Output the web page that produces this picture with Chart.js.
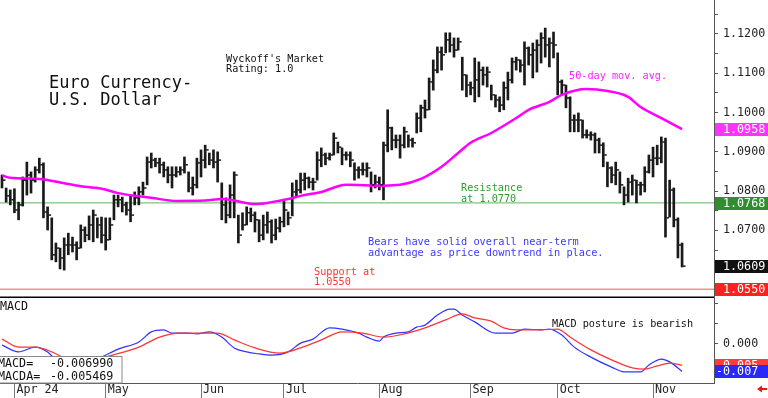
<!DOCTYPE html>
<html>
<head>
<meta charset="utf-8">
<script src="https://cdn.jsdelivr.net/npm/chart.js@4/dist/chart.umd.min.js"></script>
<style>
  body { margin: 0; background: #fff; }
  #wrap { position: relative; width: 768px; height: 398px; overflow: hidden; }
  #priceBox { position: absolute; left: 0; top: 0; width: 768px; height: 298px; }
  #macdBox { position: absolute; left: 0; top: 298px; width: 768px; height: 100px; }
</style>
</head>
<body>
<div id="wrap">
  <div id="priceBox"><canvas id="priceChart" width="768" height="298"></canvas></div>
  <div id="macdBox"><canvas id="macdChart" width="768" height="100"></canvas></div>
</div>
<script>
// daily bars, Mar 27 2024 .. Nov 12 2024 (trading days, index 0..164)
const highs = [
  1.0841, 1.0808, 1.0803, 1.0806, 1.0772, 1.0836, 1.0874, 1.0849, 1.0862, 1.0884,
  1.0872, 1.0760, 1.0732, 1.0668, 1.0655, 1.0681, 1.0693, 1.0683, 1.0671, 1.0714,
  1.0709, 1.0737, 1.0752, 1.0732, 1.0734, 1.0732, 1.0732, 1.0790, 1.0790, 1.0785,
  1.0772, 1.0790, 1.0798, 1.0811, 1.0823, 1.0887, 1.0897, 1.0884, 1.0884, 1.0874,
  1.0862, 1.0862, 1.0862, 1.0862, 1.0887, 1.0849, 1.0836, 1.0884, 1.0905, 1.0917,
  1.0897, 1.0905, 1.0900, 1.0821, 1.0783, 1.0816, 1.0849, 1.0739, 1.0745, 1.0760,
  1.0757, 1.0747, 1.0727, 1.0739, 1.0747, 1.0727, 1.0729, 1.0734, 1.0778, 1.0747,
  1.0821, 1.0828, 1.0846, 1.0846, 1.0836, 1.0833, 1.0900, 1.0910, 1.0897, 1.0897,
  1.0948, 1.0925, 1.0910, 1.0900, 1.0900, 1.0872, 1.0862, 1.0872, 1.0872, 1.0849,
  1.0841, 1.0836, 1.0925, 1.1007, 1.0963, 1.0943, 1.0943, 1.0963, 1.0943, 1.0935,
  1.0999, 1.1019, 1.1032, 1.1088, 1.1134, 1.1167, 1.1167, 1.1203, 1.1203, 1.1190,
  1.1190, 1.1141, 1.1096, 1.1078, 1.1139, 1.1129, 1.1116, 1.1116, 1.1070, 1.1045,
  1.1040, 1.1078, 1.1103, 1.1139, 1.1141, 1.1134, 1.1180, 1.1167, 1.1177, 1.1185,
  1.1203, 1.1215, 1.1190, 1.1205, 1.1152, 1.1083, 1.1070, 1.1040, 1.0994, 1.0999,
  1.0981, 1.0956, 1.0951, 1.0948, 1.0935, 1.0923, 1.0874, 1.0862, 1.0874, 1.0849,
  1.0811, 1.0833, 1.0841, 1.0828, 1.0823, 1.0862, 1.0892, 1.0912, 1.0917, 1.0938,
  1.0935, 1.0828, 1.0808, 1.0732, 1.0668
];
const lows = [
  1.0808, 1.0772, 1.0765, 1.0745, 1.0727, 1.0762, 1.0790, 1.0795, 1.0823, 1.0846,
  1.0732, 1.0701, 1.0625, 1.0620, 1.0602, 1.0599, 1.0638, 1.0645, 1.0625, 1.0655,
  1.0671, 1.0676, 1.0671, 1.0681, 1.0668, 1.0650, 1.0676, 1.0727, 1.0760, 1.0747,
  1.0739, 1.0722, 1.0765, 1.0765, 1.0790, 1.0816, 1.0859, 1.0862, 1.0846, 1.0836,
  1.0821, 1.0808, 1.0836, 1.0841, 1.0846, 1.0798, 1.0790, 1.0808, 1.0836, 1.0859,
  1.0867, 1.0859, 1.0823, 1.0727, 1.0719, 1.0732, 1.0732, 1.0668, 1.0701, 1.0714,
  1.0722, 1.0696, 1.0671, 1.0676, 1.0693, 1.0668, 1.0676, 1.0696, 1.0709, 1.0714,
  1.0737, 1.0785, 1.0795, 1.0803, 1.0808, 1.0803, 1.0828, 1.0862, 1.0867, 1.0879,
  1.0892, 1.0897, 1.0867, 1.0879, 1.0862, 1.0828, 1.0833, 1.0841, 1.0836, 1.0798,
  1.0808, 1.0803, 1.0778, 1.0900, 1.0905, 1.0910, 1.0884, 1.0910, 1.0912, 1.0912,
  1.0948, 1.0951, 1.0986, 1.1007, 1.1057, 1.1101, 1.1108, 1.1152, 1.1154, 1.1141,
  1.1159, 1.1057, 1.1040, 1.1045, 1.1027, 1.1040, 1.1070, 1.1065, 1.1032, 1.1014,
  1.1002, 1.1007, 1.1032, 1.1075, 1.1108, 1.1103, 1.1070, 1.1121, 1.1088, 1.1103,
  1.1126, 1.1141, 1.1116, 1.1139, 1.1045, 1.1045, 1.1012, 1.0951, 1.0951, 1.0951,
  1.0935, 1.0935, 1.0930, 1.0897, 1.0897, 1.0862, 1.0811, 1.0821, 1.0816, 1.0795,
  1.0765, 1.0772, 1.0790, 1.0770, 1.0790, 1.0798, 1.0846, 1.0836, 1.0867, 1.0872,
  1.0683, 1.0734, 1.0709, 1.0630, 1.0607
];
const closes = [
  1.0828, 1.0788, 1.0778, 1.0752, 1.0765, 1.0828, 1.0841, 1.0828, 1.0854, 1.0867,
  1.0747, 1.0739, 1.0638, 1.0655, 1.0630, 1.0663, 1.0663, 1.0663, 1.0655, 1.0701,
  1.0688, 1.0714, 1.0739, 1.0714, 1.0688, 1.0676, 1.0714, 1.0778, 1.0778, 1.0765,
  1.0752, 1.0739, 1.0783, 1.0798, 1.0808, 1.0874, 1.0879, 1.0872, 1.0867, 1.0854,
  1.0841, 1.0841, 1.0849, 1.0854, 1.0867, 1.0808, 1.0816, 1.0872, 1.0879, 1.0905,
  1.0879, 1.0874, 1.0879, 1.0765, 1.0739, 1.0790, 1.0841, 1.0688, 1.0714, 1.0745,
  1.0739, 1.0727, 1.0688, 1.0714, 1.0722, 1.0688, 1.0706, 1.0722, 1.0752, 1.0732,
  1.0798, 1.0803, 1.0828, 1.0833, 1.0823, 1.0823, 1.0879, 1.0892, 1.0884, 1.0892,
  1.0935, 1.0912, 1.0892, 1.0892, 1.0879, 1.0854, 1.0854, 1.0854, 1.0859, 1.0816,
  1.0823, 1.0816, 1.0917, 1.0961, 1.0930, 1.0930, 1.0917, 1.0951, 1.0930, 1.0923,
  1.0986, 1.1012, 1.1007, 1.1078, 1.1108, 1.1154, 1.1147, 1.1185, 1.1172, 1.1159,
  1.1180, 1.1096, 1.1070, 1.1063, 1.1083, 1.1108, 1.1096, 1.1103, 1.1045, 1.1032,
  1.1019, 1.1063, 1.1083, 1.1129, 1.1134, 1.1121, 1.1164, 1.1147, 1.1159, 1.1172,
  1.1190, 1.1172, 1.1177, 1.1172, 1.1078, 1.1070, 1.1037, 1.0981, 1.0981, 1.0981,
  1.0943, 1.0943, 1.0943, 1.0930, 1.0917, 1.0892, 1.0859, 1.0841, 1.0854, 1.0816,
  1.0790, 1.0823, 1.0828, 1.0816, 1.0816, 1.0849, 1.0879, 1.0884, 1.0884, 1.0925,
  1.0732, 1.0803, 1.0727, 1.0663, 1.0609
];

// 50-day moving average, read at these bar indexes
const maIdx = [0, 2, 9, 16, 20, 24, 28, 32, 36, 42, 49, 53, 55, 61, 65, 69, 72, 77, 83, 92, 96, 101, 106, 110, 113, 118, 124, 127, 132, 135, 141, 146, 151, 154, 159, 164];
const maVal = [1.0840, 1.0834, 1.0831, 1.0818, 1.0811, 1.0806, 1.0795, 1.0788, 1.0783, 1.0775, 1.0776, 1.0780, 1.0778, 1.0767, 1.0772, 1.0780, 1.0788, 1.0798, 1.0816, 1.0814, 1.0816, 1.0831, 1.0862, 1.0897, 1.0923, 1.0948, 1.0986, 1.1007, 1.1027, 1.1045, 1.1060, 1.1055, 1.1040, 1.1014, 1.0986, 1.0958];

// MACD (blue) and its average (red)
const macdIdx = [0, 4, 8, 11, 13, 16, 20, 24, 28, 33, 36, 39, 41, 45, 47, 50, 53, 56, 59, 62, 65, 69, 72, 75, 79, 82, 86, 88, 91, 92, 95, 98, 100, 102, 105, 108, 109, 111, 114, 119, 123, 126, 130, 132, 135, 138, 142, 147, 150, 154, 156, 159, 161, 164];
const macdVal = [-0.0004, -0.0021, -0.0009, -0.0021, -0.0041, -0.0056, -0.0051, -0.0034, -0.0014, 0.0004, 0.0029, 0.0034, 0.0026, 0.0026, 0.0024, 0.0029, 0.0016, -0.0011, -0.0021, -0.0026, -0.0029, -0.0021, 0.0001, 0.0011, 0.0039, 0.0036, 0.0026, 0.0016, 0.0006, 0.0016, 0.0026, 0.0029, 0.0041, 0.0046, 0.0071, 0.0086, 0.0086, 0.0071, 0.0054, 0.0026, 0.0026, 0.0036, 0.0034, 0.0036, 0.0021, -0.0009, -0.0034, -0.0059, -0.0071, -0.0071, -0.0054, -0.0039, -0.0046, -0.006990];
const sigIdx = [0, 4, 8, 12, 15, 19, 22, 25, 33, 38, 43, 48, 52, 56, 61, 67, 72, 77, 82, 87, 92, 97, 102, 107, 111, 114, 118, 121, 124, 130, 134, 137, 142, 147, 152, 155, 158, 161, 164];
const sigVal = [0.0011, -0.0009, -0.0009, -0.0021, -0.0036, -0.0046, -0.0044, -0.0034, -0.0009, 0.0016, 0.0026, 0.0026, 0.0026, 0.0009, -0.0011, -0.0024, -0.0011, 0.0009, 0.0029, 0.0026, 0.0016, 0.0024, 0.0039, 0.0059, 0.0074, 0.0064, 0.0056, 0.0039, 0.0034, 0.0034, 0.0036, 0.0016, -0.0016, -0.0041, -0.0061, -0.0064, -0.0056, -0.0049, -0.005469];

// month labels and the bar index where each month starts
const monthLabels = ['Apr 24', 'May', 'Jun', 'Jul', 'Aug', 'Sep', 'Oct', 'Nov'];
const monthStart = [3, 25, 48, 68, 91, 113, 134, 157];

const priceLabels = ['1.0700', '1.0800', '1.0900', '1.1000', '1.1100', '1.1200'];
const resistance = 1.0770;
const resistanceTag = 1.0768;
const support = 1.0550;
const maLast = 1.0958;
const lastClose = 1.0609;

const MONO = '"DejaVu Sans Mono", "Liberation Mono", monospace';
const X_MIN = -0.48, X_MAX = 171.7;

function zipXY(xs, ys) {
    return xs.map((x, i) => ({ x, y: ys[i] }));
}

function tagBox(ctx, yPix, text, bg, textX) {
    ctx.fillStyle = bg;
    ctx.fillRect(715, Math.round(yPix - 6.5), 53, 13);
    ctx.fillStyle = '#fff';
    ctx.textBaseline = 'middle';
    ctx.textAlign = 'left';
    ctx.font = '11.7px ' + MONO;
    ctx.fillText(text, textX, yPix + 0.5);
}

function label(ctx, text, x, y, color, size) {
    ctx.fillStyle = color;
    ctx.font = size + 'px ' + MONO;
    ctx.textBaseline = 'alphabetic';
    ctx.textAlign = 'left';
    ctx.fillText(text, x, y);
}

// close ticks, notes and value tags for the price panel
const priceDecor = {
    id: 'priceDecor',
    afterDatasetsDraw(chart) {
        const { ctx, scales: { x, y } } = chart;
        ctx.save();
        ctx.fillStyle = '#1a1a1a';
        closes.forEach((c, i) => {
            const px = x.getPixelForValue(i);
            const py = y.getPixelForValue(c);
            ctx.fillRect(px + 1, py - 0.75, 2.5, 1.5);
        });
        ctx.restore();
    },
    afterDraw(chart) {
        const { ctx, scales: { y } } = chart;
        ctx.save();
        ctx.fillStyle = '#000';
        ctx.fillRect(0, 296.5, 714, 1.5);

        label(ctx, "Wyckoff's Market", 226, 62, '#111', 10.2);
        label(ctx, 'Rating: 1.0', 226, 72, '#111', 10.2);
        label(ctx, 'Euro Currency-', 49, 87.5, '#111', 17);
        label(ctx, 'U.S. Dollar', 49, 104.5, '#111', 17);
        label(ctx, '50-day mov. avg.', 569, 78.5, '#ff22ff', 10.2);
        label(ctx, 'Resistance', 461, 190.5, '#2e9a2e', 10.2);
        label(ctx, 'at 1.0770', 461, 201.5, '#2e9a2e', 10.2);
        label(ctx, 'Bears have solid overall near-term', 368, 245, '#3a3aff', 10.3);
        label(ctx, 'advantage as price downtrend in place.', 368, 256, '#3a3aff', 10.3);
        label(ctx, 'Support at', 314, 274.5, '#ff3030', 10.2);
        label(ctx, '1.0550', 314, 285, '#ff3030', 10.2);

        tagBox(ctx, y.getPixelForValue(maLast), maLast.toFixed(4), '#ff33ff', 723);
        tagBox(ctx, y.getPixelForValue(resistanceTag), resistanceTag.toFixed(4), '#2f8f2f', 723);
        tagBox(ctx, y.getPixelForValue(lastClose), lastClose.toFixed(4), '#111', 723);
        tagBox(ctx, y.getPixelForValue(support), support.toFixed(4), '#ff2020', 723);
        ctx.restore();
    }
};

const macdDecor = {
    id: 'macdDecor',
    afterDraw(chart) {
        const { ctx, scales: { y } } = chart;
        ctx.save();
        label(ctx, 'MACD', 0, 12, '#111', 11.7);
        label(ctx, 'MACD posture is bearish', 552, 28.5, '#111', 10.2);

        // readout box, bottom left
        ctx.fillStyle = '#fff';
        ctx.fillRect(-1, 58.5, 123, 26.5);
        ctx.strokeStyle = '#888';
        ctx.lineWidth = 1;
        ctx.strokeRect(-1, 58.5, 123, 26.5);
        label(ctx, 'MACD=', -2, 69, '#111', 11.7);
        label(ctx, macdVal[macdVal.length - 1].toFixed(6), 50, 69, '#111', 11.7);
        label(ctx, 'MACDA=', -2, 81.5, '#111', 11.7);
        label(ctx, sigVal[sigVal.length - 1].toFixed(6), 50, 81.5, '#111', 11.7);

        const sigLast = sigVal[sigVal.length - 1];
        const macdLast = macdVal[macdVal.length - 1];
        tagBox(ctx, y.getPixelForValue(sigLast), sigLast.toFixed(3), '#ff3b3b', 716);
        tagBox(ctx, y.getPixelForValue(macdLast), macdLast.toFixed(3), '#2a2aff', 716);

        // little red arrow, bottom right
        ctx.fillStyle = '#ee1111';
        ctx.beginPath();
        ctx.moveTo(757, 91);
        ctx.lineTo(762, 87.5);
        ctx.lineTo(762, 94.5);
        ctx.closePath();
        ctx.fill();
        ctx.fillRect(761, 90, 6, 2);
        ctx.restore();
    }
};

function fitRight(scale) {
    scale.width = 54;
    scale.paddingTop = 0;
    scale.paddingBottom = 0;
}

const priceCtx = document.getElementById('priceChart').getContext('2d');
new Chart(priceCtx, {
    type: 'line',
    data: {
        datasets: [
            {
                type: 'bar',
                data: highs.map((h, i) => ({ x: i, y: [lows[i], h] })),
                backgroundColor: '#1a1a1a',
                borderWidth: 0,
                barThickness: 2,
                order: 1
            },
            {
                data: zipXY(maIdx, maVal),
                borderColor: '#ff00ff',
                borderWidth: 2.5,
                pointRadius: 0,
                cubicInterpolationMode: 'monotone',
                order: 0
            },
            {
                data: [{ x: X_MIN, y: resistance }, { x: X_MAX, y: resistance }],
                borderColor: '#7cc47c',
                borderWidth: 1.2,
                pointRadius: 0,
                order: 3
            },
            {
                data: [{ x: X_MIN, y: support }, { x: X_MAX, y: support }],
                borderColor: '#ff8c8c',
                borderWidth: 1.5,
                pointRadius: 0,
                order: 3
            }
        ]
    },
    options: {
        responsive: false,
        animation: false,
        layout: { padding: 0 },
        plugins: { legend: { display: false }, tooltip: { enabled: false } },
        scales: {
            x: {
                type: 'linear',
                min: X_MIN,
                max: X_MAX,
                offset: false,
                display: false,
                grid: { offset: false }
            },
            y: {
                position: 'right',
                min: 1.0528,
                max: 1.12865,
                afterFit: fitRight,
                afterBuildTicks(scale) {
                    const t = [];
                    for (let k = 211; k <= 225; k++) t.push({ value: k * 0.005 });
                    scale.ticks = t;
                },
                grid: { drawOnChartArea: false, tickLength: 4, color: '#555' },
                border: { color: '#555' },
                ticks: {
                    padding: 5,
                    color: '#222',
                    font: { family: MONO, size: 11.7 },
                    callback: v => priceLabels.includes(v.toFixed(4)) ? v.toFixed(4) : ''
                }
            }
        }
    },
    plugins: [priceDecor]
});

const macdCtx = document.getElementById('macdChart').getContext('2d');
new Chart(macdCtx, {
    type: 'line',
    data: {
        datasets: [
            {
                data: zipXY(sigIdx, sigVal),
                borderColor: '#ff3333',
                borderWidth: 1.2,
                pointRadius: 0,
                cubicInterpolationMode: 'monotone'
            },
            {
                data: zipXY(macdIdx, macdVal),
                borderColor: '#3333ff',
                borderWidth: 1.2,
                pointRadius: 0,
                cubicInterpolationMode: 'monotone'
            }
        ]
    },
    options: {
        responsive: false,
        animation: false,
        layout: { padding: 0 },
        plugins: { legend: { display: false }, tooltip: { enabled: false } },
        scales: {
            x: {
                type: 'linear',
                min: X_MIN,
                max: X_MAX,
                afterFit(scale) {
                    scale.height = 15;
                    scale.paddingLeft = 0;
                    scale.paddingRight = 0;
                },
                afterBuildTicks(scale) {
                    scale.ticks = monthStart.map(v => ({ value: v }));
                },
                grid: { drawOnChartArea: false, tickLength: 15, color: '#777' },
                border: { color: '#555' },
                ticks: {
                    align: 'start',
                    padding: -15,
                    labelOffset: 2,
                    autoSkip: false,
                    maxRotation: 0,
                    color: '#222',
                    font: { family: MONO, size: 11.7 },
                    callback: v => monthLabels[monthStart.indexOf(v)]
                }
            },
            y: {
                position: 'right',
                min: -0.009875,
                max: 0.011375,
                afterFit: fitRight,
                afterBuildTicks(scale) {
                    scale.ticks = [-0.005, 0, 0.005, 0.01].map(v => ({ value: v }));
                },
                grid: { drawOnChartArea: false, tickLength: 4, color: '#555' },
                border: { color: '#555' },
                ticks: {
                    padding: 5,
                    color: '#222',
                    font: { family: MONO, size: 11.7 },
                    callback: v => v === 0 ? '0.000' : ''
                }
            }
        }
    },
    plugins: [macdDecor]
});
</script>
</body>
</html>
